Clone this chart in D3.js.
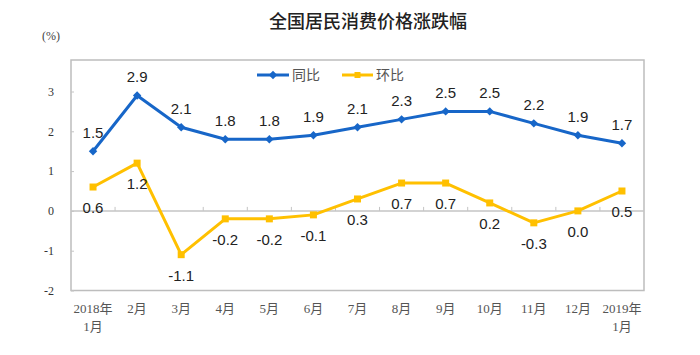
<!DOCTYPE html>
<html><head><meta charset="utf-8">
<script src="https://cdn.jsdelivr.net/npm/d3@7"></script>
<style>
body{margin:0;background:#fff;}
svg{display:block;}
</style></head>
<body>
<svg id="chart" width="700" height="355"></svg>
<script>
const categories = ["2018年\n1月","2月","3月","4月","5月","6月","7月","8月","9月","10月","11月","12月","2019年\n1月"];
const yoy = [1.5,2.9,2.1,1.8,1.8,1.9,2.1,2.3,2.5,2.5,2.2,1.9,1.7];
const mom = [0.6,1.2,-1.1,-0.2,-0.2,-0.1,0.3,0.7,0.7,0.2,-0.3,0.0,0.5];
const yTicks = [-2,-1,0,1,2,3];
const seriesNames = ["同比","环比"];
const title = "全国居民消费价格涨跌幅";
const unit = "(%)";

(function(){
const svg = d3.select("#chart");
const blue = "#1766c8", yellow = "#ffc000";
const pL = 71, pR = 644, pT = 60, pB = 290.5;
const x = d3.scaleBand().domain(d3.range(categories.length)).range([pL, pR]);
const y = d3.scaleLinear().domain([-2, 3]).range([pB, 91.5]);
const cx = i => x(i) + x.bandwidth()/2;
const loc = d3.formatLocale({decimal:".", thousands:",", grouping:[3], currency:["",""], minus:"-"});

svg.append("text").attr("x", 368).attr("y", 28).attr("text-anchor","middle")
  .attr("font-family","'Noto Sans CJK SC',sans-serif").attr("font-size",18).attr("font-weight",500).attr("fill","#222").text(title);
svg.append("text").attr("x", 51).attr("y", 40).attr("text-anchor","middle")
  .attr("font-family","'Liberation Serif',serif").attr("font-size",12).attr("fill","#444").text(unit);

// frame
svg.append("rect").attr("x",pL).attr("y",pT).attr("width",pR-pL).attr("height",pB-pT)
  .attr("fill","none").attr("stroke","#bdbdbd").attr("stroke-width",1.5);
// zero line
svg.append("line").attr("x1",pL).attr("x2",pR).attr("y1",y(0)).attr("y2",y(0))
  .attr("stroke","#c4c4c4").attr("stroke-width",1.5);

// y axis
const yAxis = d3.axisLeft(y).tickValues(yTicks).tickSize(-3).tickPadding(17).tickFormat(loc.format("d"));
const ga = svg.append("g").attr("transform",`translate(${pL},0)`).call(yAxis);
ga.select(".domain").remove();
ga.selectAll("line").attr("stroke","#c4c4c4");
ga.selectAll("text").attr("font-family","'Liberation Serif',serif").attr("font-size",12).attr("fill","#333");

// x ticks on zero line
svg.append("g").selectAll("line").data(d3.range(1, categories.length)).join("line")
  .attr("x1", i => x(i)).attr("x2", i => x(i)).attr("y1", y(0)).attr("y2", y(0)-4)
  .attr("stroke","#c4c4c4").attr("stroke-width",1);

// x labels
const xl = svg.append("g").selectAll("text").data(categories).join("text")
  .attr("x",(d,i)=>cx(i)).attr("y",313).attr("text-anchor","middle")
  .attr("font-family","'Liberation Serif','Noto Sans CJK SC',serif").attr("font-size",13).attr("fill","#555");
xl.each(function(d){
  const parts = d.split("\n");
  const t = d3.select(this);
  parts.forEach((p,k)=>{
    t.append("tspan").attr("x", t.attr("x")).attr("dy", k===0?0:18).text(p);
  });
});

// lines
const line = d3.line().x((d,i)=>cx(i)).y(d=>y(d));
svg.append("path").datum(yoy).attr("d",line).attr("fill","none").attr("stroke",blue).attr("stroke-width",3).attr("stroke-linejoin","round");
svg.append("path").datum(mom).attr("d",line).attr("fill","none").attr("stroke",yellow).attr("stroke-width",3).attr("stroke-linejoin","round");

const diamond = d3.symbol().type(d3.symbolDiamond2).size(45);
svg.append("g").selectAll("path").data(yoy).join("path")
  .attr("d",diamond).attr("transform",(d,i)=>`translate(${cx(i)},${y(d)})`).attr("fill",blue);
svg.append("g").selectAll("rect").data(mom).join("rect")
  .attr("x",(d,i)=>cx(i)-3.5).attr("y",d=>y(d)-3.5).attr("width",7).attr("height",7).attr("fill",yellow);

// data labels
const fmt = loc.format(".1f");
svg.append("g").selectAll("text").data(yoy).join("text")
  .attr("x",(d,i)=>cx(i)).attr("y",d=>y(d)-13).attr("text-anchor","middle")
  .attr("font-family","'Liberation Sans',Arial,sans-serif").attr("font-size",15).attr("fill","#222").text(fmt);
svg.append("g").selectAll("text").data(mom).join("text")
  .attr("x",(d,i)=>cx(i)).attr("y",d=>y(d)+26).attr("text-anchor","middle")
  .attr("font-family","'Liberation Sans',Arial,sans-serif").attr("font-size",15).attr("fill","#222").text(fmt);

// legend
const leg = [{name:seriesNames[0],c:blue,x1:257,x2:289,tx:292,m:"d"},{name:seriesNames[1],c:yellow,x1:342,x2:373,tx:376,m:"s"}];
const lg = svg.append("g");
leg.forEach(l=>{
  lg.append("line").attr("x1",l.x1).attr("x2",l.x2).attr("y1",75).attr("y2",75).attr("stroke",l.c).attr("stroke-width",3);
  const mx=(l.x1+l.x2)/2;
  if(l.m==="d") lg.append("path").attr("d",diamond).attr("transform",`translate(${mx},75)`).attr("fill",l.c);
  else lg.append("rect").attr("x",mx-3).attr("y",72).attr("width",6).attr("height",6).attr("fill",l.c);
  lg.append("text").attr("x",l.tx).attr("y",80).attr("font-family","'Noto Sans CJK SC',sans-serif")
    .attr("font-size",14).attr("fill","#555").text(l.name);
});
})();
</script>
</body></html>
